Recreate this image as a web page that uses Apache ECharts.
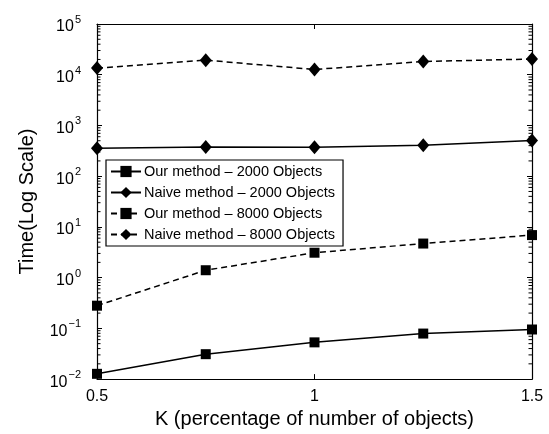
<!DOCTYPE html>
<html>
<head>
<meta charset="utf-8">
<script src="https://cdn.jsdelivr.net/npm/echarts@6/dist/echarts.min.js"></script>
<style>
html,body{margin:0;padding:0;background:#fff;}
#c{width:549px;height:434px;}
</style>
</head>
<body>
<div id="c"></div>
<script>
const kValues = [0.5, 0.75, 1.0, 1.25, 1.5];
const ourMethod2000 = [0.0127, 0.031, 0.053, 0.079, 0.095];
const naiveMethod2000 = [354, 376, 372, 405, 508];
const ourMethod8000 = [0.28, 1.4, 3.1, 4.7, 6.9];
const naiveMethod8000 = [13500, 19400, 12700, 18200, 20400];
const seriesNames = [
  'Our method \u2013 2000 Objects',
  'Naive method \u2013 2000 Objects',
  'Our method \u2013 8000 Objects',
  'Naive method \u2013 8000 Objects'
];
const xTicks = [0.5, 1, 1.5];
const yDecades = [-2, -1, 0, 1, 2, 3, 4];
const yMinorMultipliers = [2, 3, 4, 5, 6, 7, 8, 9];
const yMin = 0.01, yMax = 100000;

const FONT = 'Liberation Sans, Arial, Helvetica, sans-serif';
const pairs = arr => kValues.map((k, i) => [k, arr[i]]);

// minor tick values of the log axis (axis decoration, not data)
const yMinorTicks = [];
yDecades.forEach(d => yMinorMultipliers.forEach(m => yMinorTicks.push([1, m * Math.pow(10, d)])));

function mkSeries(name, arr, symbol, dashed) {
  return {
    name: name,
    type: 'line',
    data: pairs(arr),
    symbol: symbol,
    symbolSize: symbol === 'diamond' ? [12, 14] : 10,
    showSymbol: true,
    lineStyle: { color: '#000', width: 1.5, type: dashed ? [6, 4] : 'solid' },
    itemStyle: { color: '#000' },
    emphasis: { disabled: true },
    animation: false,
    z: 3
  };
}

const chart = echarts.init(document.getElementById('c'), null, { renderer: 'canvas' });

const yCommon = {
  type: 'log',
  logBase: 10,
  min: yMin,
  max: yMax,
  axisLine: { show: true, lineStyle: { color: '#000', width: 1.2 } },
  axisTick: { show: true, inside: true, length: 5, lineStyle: { color: '#000' } },
  splitLine: { show: false },
  minorSplitLine: { show: false }
};

chart.setOption({
  backgroundColor: '#fff',
  textStyle: { fontFamily: FONT },
  grid: { left: 97, right: 17, top: 24, bottom: 52, containLabel: false },
  legend: {
    data: seriesNames,
    orient: 'vertical',
    left: 106,
    top: 160,
    itemWidth: 30,
    itemHeight: 14,
    itemGap: 6,
    padding: [4, 8, 4, 4],
    borderColor: '#000',
    borderWidth: 1.2,
    backgroundColor: '#fff',
    textStyle: { fontFamily: FONT, fontSize: 14.5, color: '#000', padding: [0, 0, 0, -2] },
    selectedMode: false
  },
  xAxis: [{
    type: 'value',
    min: 0.5,
    max: 1.5,
    interval: 0.5,
    name: 'K (percentage of number of objects)',
    nameLocation: 'middle',
    nameGap: 22,
    nameTextStyle: { fontFamily: FONT, fontSize: 20, color: '#000' },
    axisLine: { show: true, onZero: false, lineStyle: { color: '#000', width: 1.2 } },
    axisTick: { show: true, inside: true, length: 5, lineStyle: { color: '#000' } },
    axisLabel: {
      fontFamily: FONT, fontSize: 16, color: '#000', margin: 9,
      formatter: v => (xTicks.indexOf(v) >= 0 ? String(v) : '')
    },
    splitLine: { show: false }
  }, {
    type: 'value',
    position: 'top',
    min: 0.5,
    max: 1.5,
    interval: 0.5,
    axisLine: { show: true, onZero: false, lineStyle: { color: '#000', width: 1.2 } },
    axisTick: { show: true, inside: true, length: 5, lineStyle: { color: '#000' } },
    axisLabel: { show: false },
    splitLine: { show: false }
  }],
  yAxis: [Object.assign({}, yCommon, {
    name: 'Time(Log Scale)',
    nameLocation: 'middle',
    nameGap: 60,
    nameTextStyle: { fontFamily: FONT, fontSize: 20, color: '#000' },
    axisLabel: {
      color: '#000',
      margin: 16,
      formatter: function (v) {
        const e = Math.round(Math.log10(v));
        const es = e < 0 ? '\u2212' + Math.abs(e) : String(e);
        return '{b|10}{s|' + es + '}';
      },
      rich: {
        b: { fontFamily: FONT, fontSize: 16, color: '#000', padding: [6, 0, 0, 0] },
        s: { fontFamily: FONT, fontSize: 11, color: '#000', padding: [0, 0, 8, 1] }
      }
    }
  }), Object.assign({}, yCommon, {
    position: 'right',
    axisLabel: { show: false }
  })],
  series: [
    mkSeries(seriesNames[0], ourMethod2000, 'rect', false),
    mkSeries(seriesNames[1], naiveMethod2000, 'diamond', false),
    mkSeries(seriesNames[2], ourMethod8000, 'rect', true),
    mkSeries(seriesNames[3], naiveMethod8000, 'diamond', true),
    {
      name: 'yMinorTicks',
      type: 'custom',
      coordinateSystem: 'cartesian2d',
      xAxisIndex: 0,
      yAxisIndex: 0,
      data: yMinorTicks,
      encode: { x: 0, y: 1 },
      silent: true,
      animation: false,
      clip: false,
      z: 2,
      renderItem: function (params, api) {
        const v = api.value(1);
        const pl = api.coord([0.5, v]);
        const pr = api.coord([1.5, v]);
        const st = { stroke: '#000', lineWidth: 1, fill: null };
        return {
          type: 'group',
          children: [
            { type: 'line', shape: { x1: pl[0], y1: pl[1], x2: pl[0] + 3.5, y2: pl[1] }, style: st },
            { type: 'line', shape: { x1: pr[0], y1: pr[1], x2: pr[0] - 3.5, y2: pr[1] }, style: st }
          ]
        };
      }
    }
  ]
});
</script>
</body>
</html>
